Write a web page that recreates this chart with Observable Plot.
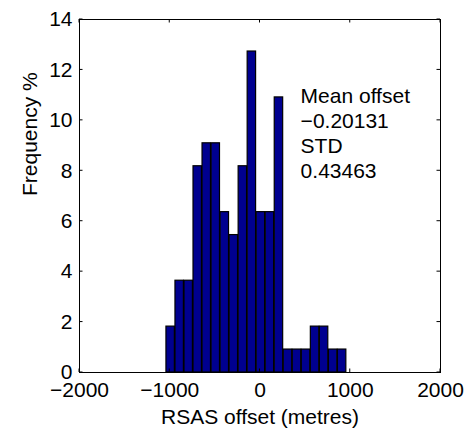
<!DOCTYPE html>
<html>
<head>
<meta charset="utf-8">
<script src="https://cdn.jsdelivr.net/npm/d3@7"></script>
<script src="https://cdn.jsdelivr.net/npm/@observablehq/plot@0.6"></script>
<style>
  html, body { margin: 0; padding: 0; background: #fff; }
</style>
</head>
<body>
<div id="chart"></div>
<script>
// Histogram bin edges (metres) and frequency of each bin (%)
const binEdges = [-1040, -940, -840, -740, -640, -540, -440, -340, -240, -140, -40,
                  60, 160, 260, 360, 460, 560, 660, 760, 860, 960];
const frequency = [1.82, 3.64, 3.64, 8.18, 9.09, 9.09, 6.36, 5.45, 8.18, 12.73,
                   6.36, 6.36, 10.91, 0.91, 0.91, 0.91, 1.82, 1.82, 0.91, 0.91];

// Summary statistics shown in the annotation
const meanOffset = -0.20131;
const stdOffset = 0.43463;

// Axis ticks
const xTicks = [-2000, -1000, 0, 1000, 2000];
const yTicks = [0, 2, 4, 6, 8, 10, 12, 14];

const bins = frequency.map((f, i) => ({x1: binEdges[i], x2: binEdges[i + 1], f}));
const minus = (v) => String(v).replace("-", "\u2212");

const FONT = 21;

// Inward-pointing ticks on all four sides of the box
function boxTicks(index, scales, values, dims) {
  const {x, y} = scales;
  const l = dims.marginLeft, t = dims.marginTop;
  const r = dims.width - dims.marginRight, b = dims.height - dims.marginBottom;
  const len = 3.5;
  const g = d3.create("svg:g").attr("stroke", "black").attr("stroke-width", 1);
  for (const v of xTicks) {
    const px = x(v);
    g.append("line").attr("x1", px).attr("x2", px).attr("y1", b).attr("y2", b - len);
    g.append("line").attr("x1", px).attr("x2", px).attr("y1", t).attr("y2", t + len);
  }
  for (const v of yTicks) {
    const py = y(v);
    g.append("line").attr("y1", py).attr("y2", py).attr("x1", l).attr("x2", l + len);
    g.append("line").attr("y1", py).attr("y2", py).attr("x1", r).attr("x2", r - len);
  }
  return g.node();
}

const chart = Plot.plot({
  width: 470,
  height: 430,
  marginLeft: 79,
  marginRight: 30,
  marginTop: 19,
  marginBottom: 58,
  style: {fontFamily: "'Liberation Sans', Arial, Helvetica, sans-serif", color: "black", background: "white"},
  x: {domain: [-2000, 2000], label: null},
  y: {domain: [0, 14], label: null},
  marks: [
    Plot.rectY(bins, {x1: "x1", x2: "x2", y: "f", fill: "#00008f", stroke: "black",
                      strokeWidth: 1.2, insetLeft: 0.3, insetRight: 0.3}),
    Plot.frame({stroke: "black", strokeWidth: 1}),
    boxTicks,
    Plot.axisX({ticks: xTicks, tickSize: 0, tickPadding: 10, fontSize: FONT,
                tickFormat: minus, label: null}),
    Plot.axisY({ticks: yTicks, tickSize: 0, tickPadding: 7, fontSize: FONT,
                tickFormat: minus, label: null}),
    Plot.text(["RSAS offset (metres)"], {frameAnchor: "bottom", lineAnchor: "bottom",
                dy: 51, fontSize: FONT, fill: "black"}),
    Plot.text(["Frequency %"], {frameAnchor: "left", lineAnchor: "bottom", rotate: -90,
                dx: -42.5, fontSize: FONT, fill: "black"}),
    Plot.text([`Mean offset\n${minus(meanOffset)}\nSTD\n${stdOffset}`],
              {x: 450, y: 9.5, textAnchor: "start", lineAnchor: "middle",
               lineHeight: 25 / FONT, fontSize: FONT, fill: "black"})
  ]
});

document.getElementById("chart").appendChild(chart);
</script>
</body>
</html>
